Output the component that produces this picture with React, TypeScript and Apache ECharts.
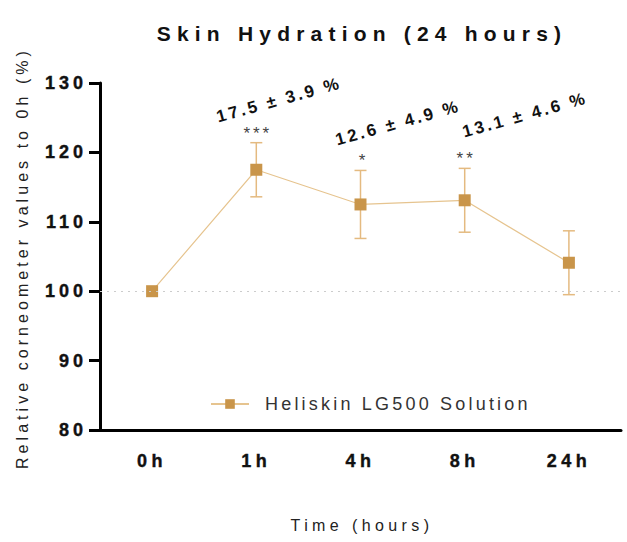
import React, { useEffect, useRef } from "react";
import * as echarts from "echarts";

const categories = ["0h", "1h", "4h", "8h", "24h"];
const meanValues = [100, 117.5, 112.5, 113.1, 104.1];
const errLow: (number | null)[] = [null, 113.6, 107.6, 108.5, 99.5];
const errHigh: (number | null)[] = [null, 121.4, 117.4, 117.7, 108.7];
const significance = ["", "***", "*", "**", ""];
const annotationTexts = ["17.5 ± 3.9 %", "12.6 ± 4.9 %", "13.1 ± 4.6 %"];
const yTicks = { min: 80, max: 130, interval: 10 };
const seriesName = "Heliskin LG500 Solution";
const titleText = "Skin Hydration (24 hours)";
const yTitle = "Relative corneometer values to 0h (%)";
const xTitle = "Time (hours)";

const FONT = "Liberation Sans, Arial, sans-serif";
const MARKER = "#C9954A";
const LINE = "#E6C48F";
const ERR = "#E4BA80";

const spacingMap: Record<string, number> = {
  [titleText]: 6.2,
  [yTitle]: 4.05,
  [xTitle]: 4.4,
  [seriesName]: 3.2,
  "***": 3,
  "**": 3,
};
categories.forEach((c) => (spacingMap[c] = 4.5));
["80", "90", "100", "110", "120", "130"].forEach((c) => (spacingMap[c] = 4));
annotationTexts.forEach((t) => (spacingMap[t] = 2.8));

export default function App() {
  const ref = useRef<HTMLDivElement>(null);
  useEffect(() => {
    if (!ref.current) return;
    const chart = echarts.init(ref.current, undefined, { renderer: "svg" });
    const errData = categories.map((_, i) => [i, errLow[i], errHigh[i]]);
    const annPos = [
      [279, 100],
      [398, 123],
      [525, 115],
    ];
    chart.setOption({
      animation: false,
      backgroundColor: "#fff",
      grid: { left: 100, right: 6, top: 83, bottom: 112, containLabel: false },
      legend: {
        left: 205,
        top: 390,
        itemWidth: 38,
        itemHeight: 12,
        itemGap: 10,
        textStyle: { fontFamily: FONT, fontSize: 18, color: "#333", padding: [0, 0, 0, 11] },
        data: [seriesName],
      },
      xAxis: {
        type: "category",
        data: categories,
        boundaryGap: true,
        axisLine: { lineStyle: { color: "#000", width: 3 } },
        axisTick: { alignWithLabel: true, length: 9, lineStyle: { width: 3, color: "#000" } },
        axisLabel: {
          fontFamily: FONT,
          fontSize: 18,
          fontWeight: "bold",
          color: "#111",
          margin: 22,
          textBorderColor: "#111",
          textBorderWidth: 0.4,
        },
      },
      yAxis: {
        type: "value",
        min: yTicks.min,
        max: yTicks.max,
        interval: yTicks.interval,
        splitLine: { show: false },
        axisLine: { show: true, lineStyle: { color: "#000", width: 3 } },
        axisTick: { show: true, length: 11, lineStyle: { width: 3, color: "#000" } },
        axisLabel: {
          fontFamily: FONT,
          fontSize: 18,
          fontWeight: "bold",
          color: "#111",
          margin: 13,
          textBorderColor: "#111",
          textBorderWidth: 0.4,
        },
      },
      graphic: [
        {
          type: "text",
          x: 362,
          y: 33,
          style: {
            text: titleText,
            fontFamily: FONT,
            fontSize: 21,
            fontWeight: "bold",
            fill: "#111",
            textAlign: "center",
            textVerticalAlign: "middle",
          },
        },
        {
          type: "text",
          x: 22,
          y: 258,
          rotation: Math.PI / 2,
          style: {
            text: yTitle,
            fontFamily: FONT,
            fontSize: 16,
            fill: "#222",
            textAlign: "center",
            textVerticalAlign: "middle",
          },
        },
        {
          type: "text",
          x: 362,
          y: 525,
          style: {
            text: xTitle,
            fontFamily: FONT,
            fontSize: 16,
            fill: "#222",
            textAlign: "center",
            textVerticalAlign: "middle",
          },
        },
        ...annotationTexts.map((t, i) => ({
          type: "text",
          x: annPos[i][0],
          y: annPos[i][1],
          rotation: 0.27,
          style: {
            text: t,
            fontFamily: FONT,
            fontSize: 17,
            fontWeight: "bold",
            fill: "#111",
            textAlign: "center",
            textVerticalAlign: "middle",
          },
        })),
      ],
      series: [
        {
          name: seriesName,
          type: "line",
          data: meanValues,
          symbol: "rect",
          symbolSize: 12,
          itemStyle: { color: MARKER },
          lineStyle: { color: LINE, width: 1.2 },
          z: 3,
          markLine: {
            silent: true,
            symbol: "none",
            label: { show: false },
            lineStyle: { color: "#ccc", type: [2, 5], width: 1 },
            data: [{ yAxis: 100 }],
          },
        },
        {
          type: "custom",
          name: "err",
          data: errData,
          z: 2,
          renderItem: (params: any, api: any) => {
            const i = api.value(0);
            const lo = api.value(1);
            const hi = api.value(2);
            const sig = significance[i];
            if (lo == null || isNaN(lo)) return null;
            const top = api.coord([i, hi]);
            const bot = api.coord([i, lo]);
            const hw = 6;
            const st = { stroke: ERR, lineWidth: 1.5 };
            const children: any[] = [
              { type: "line", shape: { x1: top[0], y1: top[1], x2: bot[0], y2: bot[1] }, style: st },
              { type: "line", shape: { x1: top[0] - hw, y1: top[1], x2: top[0] + hw, y2: top[1] }, style: st },
              { type: "line", shape: { x1: bot[0] - hw, y1: bot[1], x2: bot[0] + hw, y2: bot[1] }, style: st },
            ];
            if (sig) {
              children.push({
                type: "text",
                x: top[0] + 1.5,
                y: top[1] - 1,
                style: {
                  text: sig,
                  fontFamily: FONT,
                  fontSize: 17,
                  fill: "#444",
                  textAlign: "center",
                  textVerticalAlign: "bottom",
                },
              });
            }
            return { type: "group", children };
          },
        },
      ],
    });
    const applySpacing = () => {
      const texts = ref.current?.querySelectorAll("text");
      texts?.forEach((el) => {
        const s = spacingMap[(el.textContent || "").trim()];
        if (s) el.setAttribute("letter-spacing", String(s));
      });
    };
    applySpacing();
    const raf = requestAnimationFrame(applySpacing);
    const t = setTimeout(applySpacing, 50);
    return () => {
      cancelAnimationFrame(raf);
      clearTimeout(t);
      chart.dispose();
    };
  }, []);
  return <div ref={ref} style={{ width: 627, height: 542, position: "absolute", left: 0, top: 0 }} />;
}
